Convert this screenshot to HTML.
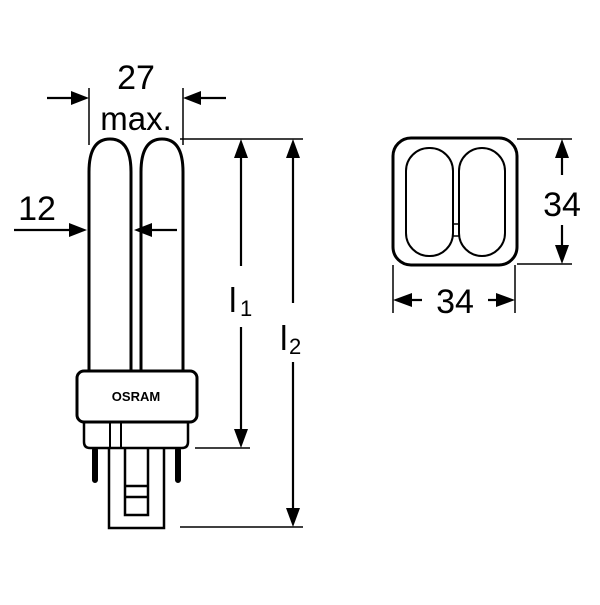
<!DOCTYPE html>
<html><head><style>body{margin:0;background:#fff}</style></head><body>
<svg width="600" height="600" viewBox="0 0 600 600" xmlns="http://www.w3.org/2000/svg" font-family="Liberation Sans, sans-serif">
<g fill="none" stroke="#000">
<path d="M89 372 V172 Q89 139 110 139 Q131 139 131 172 V372" stroke-width="3"/>
<path d="M141 372 V172 Q141 139 162 139 Q183 139 183 172 V372" stroke-width="3"/>
<rect x="77" y="371" width="120" height="51" rx="7" stroke-width="3" fill="#fff"/>
<path d="M84 422 V442 Q84 448 90 448 H182 Q188 448 188 442 V422" stroke-width="2.5"/>
<path d="M110 422 V448 M121 422 V448" stroke-width="2"/>
<path d="M95 450 V480 M178 450 V480" stroke-width="6" stroke-linecap="round"/>
<path d="M109 448 V528 H164 V448" stroke-width="2.5"/>
<path d="M125 448 V515 H148 V448 M125 486 H148 M125 497 H148" stroke-width="2.5"/>
<g stroke-width="1.5">
<path d="M89 88 V145 M183 88 V145"/>
<path d="M47 98 H75 M198 98 H226"/>
<path d="M14 230 H75 M148 230 H177"/>
<path d="M180 139 H303 M195 448 H250 M180 527 H303"/>
<path d="M241 155 V266 M241 327 V432 M293 155 V303 M293 362 V512"/>
<path d="M517 139 H572 M517 264 H572 M562 155 V175 M562 225 V248"/>
<path d="M393 265 V313 M515 265 V313 M409 300 H422 M488 300 H501"/>
</g>
<g stroke-width="2.2">
<path d="M47 98 H75 M198 98 H226 M14 230 H75 M148 230 H177 M241 155 V266 M241 327 V432 M293 155 V303 M293 362 V512 M562 155 V175 M562 225 V248 M409 300 H422 M488 300 H501"/>
</g>
<rect x="393" y="138" width="124" height="127" rx="18" stroke-width="3"/>
<rect x="406" y="148" width="47" height="108" rx="23" stroke-width="2"/>
<rect x="459" y="148" width="46" height="108" rx="23" stroke-width="2"/>
<path d="M453 224 H459 M453 236 H459" stroke-width="1.5"/>
</g>
<g fill="#000">
<polygon points="89,98 71,91 71,105"/>
<polygon points="183,98 201,91 201,105"/>
<polygon points="87,230 69,223 69,237"/>
<polygon points="134,230 152,223 152,237"/>
<polygon points="241,139 234,158 248,158"/>
<polygon points="293,139 286,158 300,158"/>
<polygon points="241,448 234,429 248,429"/>
<polygon points="293,527 286,508 300,508"/>
<polygon points="562,139 555,158 569,158"/>
<polygon points="562,264 555,245 569,245"/>
<polygon points="393,300 412,293 412,307"/>
<polygon points="515,300 496,293 496,307"/>
</g>
<g fill="#000">
<text x="136" y="89" font-size="34" text-anchor="middle">27</text>
<text x="136" y="130" font-size="33" text-anchor="middle">max.</text>
<text x="37" y="220" font-size="34" text-anchor="middle">12</text>
<text x="136" y="401" font-size="13" font-weight="bold" text-anchor="middle">OSRAM</text>
<text x="229" y="312" font-size="34">l</text><text x="240" y="316" font-size="22">1</text>
<text x="280" y="350" font-size="34">l</text><text x="289" y="354" font-size="22">2</text>
<text x="562" y="216" font-size="34" text-anchor="middle">34</text>
<text x="455" y="313" font-size="34" text-anchor="middle">34</text>
</g>
</svg>
</body></html>
